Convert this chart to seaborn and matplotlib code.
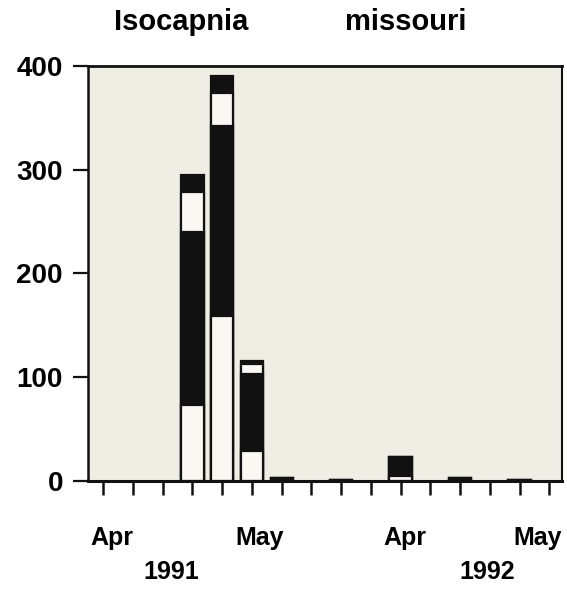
import numpy as np
import pandas as pd
import seaborn as sns
import matplotlib.pyplot as plt
import matplotlib.transforms as mtransforms

# Weekly samples over two spring seasons (16 sampling dates)
sample = list(range(1, 17))
# stacked segments from bottom to top: white, black, white, black
seg1_white = [0, 0, 0, 73, 159, 29, 0, 0, 0, 0, 5, 0, 0, 0, 0, 0]
seg2_black = [0, 0, 0, 167, 183, 74, 3, 0, 1, 0, 18, 0, 3, 0, 1, 0]
seg3_white = [0, 0, 0, 39, 32, 10, 0, 0, 0, 0, 0, 0, 0, 0, 0, 0]
seg4_black = [0, 0, 0, 16, 16, 3, 0, 0, 0, 0, 0, 0, 0, 0, 0, 0]

month_labels = ['Apr', 'May', 'Apr', 'May']
year_labels = ['1991', '1992']
title_words = ['Isocapnia', 'missouri']

# label placement (in sample index units)
month_pos = [0.3, 5.25, 10.15, 14.6]
year_pos = [2.3, 12.9]

df = pd.DataFrame({'sample': sample, 's1': seg1_white, 's2': seg2_black,
                   's3': seg3_white, 's4': seg4_black})
df['c1'] = df['s1']
df['c2'] = df['c1'] + df['s2']
df['c3'] = df['c2'] + df['s3']
df['c4'] = df['c3'] + df['s4']
# empty samples get no bar at all
for c in ['c1', 'c2', 'c3', 'c4']:
    df[c] = df[c].replace(0, np.nan)

sns.set_style('white')
plt.rcParams['font.family'] = ['Liberation Sans', 'DejaVu Sans']
plt.rcParams['text.color'] = 'black'
plt.rcParams['xtick.color'] = 'black'
plt.rcParams['ytick.color'] = 'black'

BLACK = '#111111'
WHITE = '#f9f8f3'

fig = plt.figure(figsize=(5.67, 5.90), dpi=100)
fig.patch.set_facecolor('white')
ax = fig.add_axes([0.155, 0.185, 0.837, 0.703])
ax.set_facecolor('#efeee5')

# draw cumulative layers from the top down
for col, colr in [('c4', BLACK), ('c3', WHITE), ('c2', BLACK), ('c1', WHITE)]:
    sns.barplot(data=df, x='sample', y=col, order=sample, color=colr,
                edgecolor=BLACK, linewidth=1.6, width=0.75, errorbar=None,
                saturation=1, ax=ax)

ax.set_xlim(-0.515, 15.44)
ax.set_ylim(0, 400)
ax.set_yticks([0, 100, 200, 300, 400])
ax.set_xticks(range(len(sample)))
ax.set_xticklabels([])
ax.set_xlabel('')
ax.set_ylabel('')

ax.tick_params(axis='y', direction='out', length=11, width=1.6, pad=7,
               labelsize=20, color=BLACK, labelcolor='black', left=True)
ax.tick_params(axis='x', direction='out', length=10, width=1.8,
               color=BLACK, bottom=True)
for lab in ax.get_yticklabels():
    lab.set_fontweight('bold')

for side, lw in [('left', 1.8), ('bottom', 2.2), ('top', 2.0), ('right', 1.5)]:
    ax.spines[side].set_visible(True)
    ax.spines[side].set_color(BLACK)
    ax.spines[side].set_linewidth(lw)

trans = mtransforms.blended_transform_factory(ax.transData, ax.transAxes)
for pos, lab in zip(month_pos, month_labels):
    ax.text(pos, -0.137, lab, transform=trans, ha='center', va='center',
            fontsize=18, fontweight='bold', color='black')
for pos, lab in zip(year_pos, year_labels):
    ax.text(pos, -0.219, lab, transform=trans, ha='center', va='center',
            fontsize=18, fontweight='bold', color='black')

fig.text(181 / 567, 0.962, title_words[0], ha='center', va='center',
         fontsize=21, fontweight='bold', color='black')
fig.text(406 / 567, 0.962, title_words[1], ha='center', va='center',
         fontsize=21, fontweight='bold', color='black')

fig.savefig('out.png', dpi=100)
